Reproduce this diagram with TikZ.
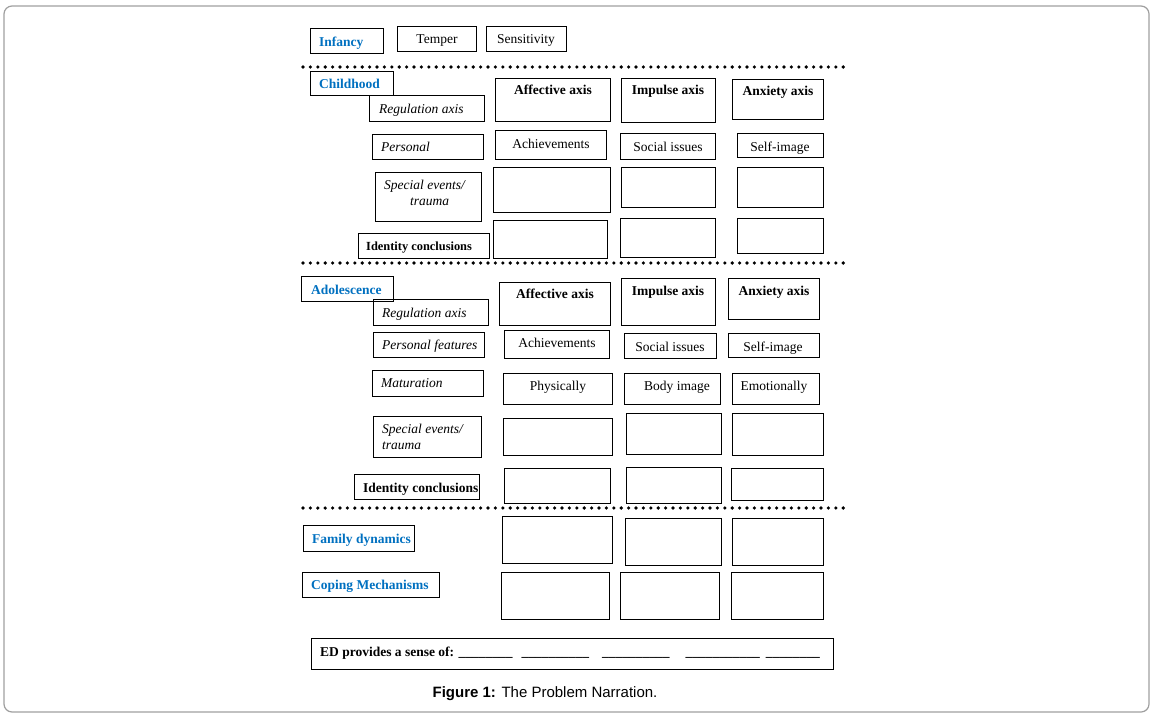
\documentclass[tikz,border=0pt]{standalone}
\usepackage{fontspec}
\setmainfont{Liberation Serif}
\newfontfamily\capfont{Liberation Sans}
\definecolor{hblue}{HTML}{0070C0}
\newcommand\bx[5]{\node[box, minimum width={(#4-#2)*1pt}, minimum height={(#5-#3)*1pt}] (#1) at ({(#2+#4)/2},{(#3+#5)/2}) {};}
\begin{document}
\begin{tikzpicture}[x=1pt,y=-1pt,
 box/.style={draw=black, line width=0.85pt, rectangle, inner sep=0pt, outer sep=0pt},
 lbl/.style={inner sep=0pt, anchor=base west},
 ctr/.style={inner sep=0pt, anchor=base},
 rm/.style={font=\fontsize{13.5}{15}\selectfont},
 it/.style={font=\fontsize{13.5}{15}\selectfont\itshape},
 bf/.style={font=\fontsize{13.5}{15}\selectfont\bfseries},
 stage/.style={font=\fontsize{13.5}{15}\selectfont\bfseries, text=hblue},
 dots/.style={line width=3.6pt, dash pattern=on 0pt off 7.4pt, line cap=round}]
\useasboundingbox (0,0) rectangle (1155,717);
\draw[gray!75, line width=1.2pt, rounded corners=8pt] (4,6) rectangle (1149,712);

% Infancy
\bx{inf}{310}{28}{383}{53}
\bx{temp}{397}{26}{476}{51}
\bx{sens}{486}{26}{566}{51}
\node[lbl, stage] (tinf) at (319,46) {Infancy};
\node[ctr, rm] (ttemp) at (437,44) {Temper};
\node[ctr, rm] (tsens) at (526,44) {Sensitivity};

\coordinate (d1a) at (303,67); \coordinate (d1b) at (850,67);
\draw[dots] (d1a) -- (d1b);

% Childhood
\bx{chi}{310}{71}{393}{95}
\node[lbl, stage] (tchi) at (319,88) {Childhood};
\bx{creg}{369}{95}{484}{121}
\node[lbl, it] (tcreg) at (379,113) {Regulation axis};
\bx{caff}{495}{78}{610}{121}
\node[ctr, bf] (tcaff) at (553,94) {Affective axis};
\bx{cimp}{621}{78}{715}{122}
\node[ctr, bf] (tcimp) at (668,94) {Impulse axis};
\bx{canx}{732}{79}{823}{119}
\node[ctr, bf] (tcanx) at (778,95) {Anxiety axis};

\bx{cper}{372}{134}{483}{159}
\node[lbl, it] (tcper) at (381,151) {Personal};
\bx{cach}{495}{130}{606}{159}
\node[ctr, rm] (tcach) at (551,148) {Achievements};
\bx{csoc}{620}{133}{715}{159}
\node[ctr, rm] (tcsoc) at (668,151) {Social issues};
\bx{cself}{737}{133}{823}{157}
\node[ctr, rm] (tcself) at (780,151) {Self-image};

\bx{cspe}{375}{172}{481}{221}
\node[lbl, it] (tcspe) at (384,189) {Special events/};
\node[lbl, it] (tcspe2) at (410,205) {trauma};
\bx{cs1}{493}{167}{610}{212}
\bx{cs2}{621}{167}{715}{207}
\bx{cs3}{737}{167}{823}{207}

\bx{cid}{358}{233}{489}{258}
\node[lbl, font=\fontsize{12.4}{14}\selectfont\bfseries] (tcid) at (366,250) {Identity conclusions};
\bx{ci1}{493}{220}{607}{258}
\bx{ci2}{620}{218}{715}{257}
\bx{ci3}{737}{218}{823}{253}

\coordinate (d2a) at (303,263); \coordinate (d2b) at (850,263);
\draw[dots] (d2a) -- (d2b);

% Adolescence
\bx{ado}{301}{276}{393}{301}
\node[lbl, stage] (tado) at (311,294) {Adolescence};
\bx{areg}{373}{299}{488}{325}
\node[lbl, it] (tareg) at (382,317) {Regulation axis};
\bx{aaff}{499}{282}{610}{325}
\node[ctr, bf] (taaff) at (555,298) {Affective axis};
\bx{aimp}{621}{278}{715}{325}
\node[ctr, bf] (taimp) at (668,295) {Impulse axis};
\bx{aanx}{728}{278}{819}{319}
\node[ctr, bf] (taanx) at (774,295) {Anxiety axis};

\bx{aper}{373}{332}{484}{357}
\node[lbl, it] (taper) at (382,349) {Personal features};
\bx{aach}{504}{330}{609}{358}
\node[ctr, rm] (taach) at (557,347) {Achievements};
\bx{asoc}{624}{333}{716}{358}
\node[ctr, rm] (tasoc) at (670,351) {Social issues};
\bx{aself}{728}{333}{819}{357}
\node[ctr, rm] (taself) at (773,351) {Self-image};

\bx{amat}{372}{370}{483}{396}
\node[lbl, it] (tamat) at (381,387) {Maturation};
\bx{aphy}{503}{373}{612}{404}
\node[ctr, rm] (taphy) at (558,390) {Physically};
\bx{abod}{624}{373}{720}{404}
\node[ctr, rm] (tabod) at (677,390) {Body image};
\bx{aemo}{732}{373}{819}{404}
\node[ctr, rm] (taemo) at (774,390) {Emotionally};

\bx{aspe}{373}{416}{481}{457}
\node[lbl, it] (taspe) at (382,433) {Special events/};
\node[lbl, it] (taspe2) at (382,449) {trauma};
\bx{as1}{503}{418}{612}{455}
\bx{as2}{626}{413}{721}{454}
\bx{as3}{732}{413}{823}{455}

\bx{aid}{354}{474}{479}{499}
\node[lbl, bf] (taid) at (363,492) {Identity conclusions};
\bx{ai1}{504}{468}{610}{503}
\bx{ai2}{626}{467}{721}{503}
\bx{ai3}{731}{468}{823}{500}

\coordinate (d3a) at (303,508); \coordinate (d3b) at (850,508);
\draw[dots] (d3a) -- (d3b);

% Family / coping
\bx{fam}{303}{525}{414}{551}
\node[lbl, stage] (tfam) at (312,543) {Family dynamics};
\bx{f1}{502}{516}{612}{563}
\bx{f2}{625}{518}{721}{565}
\bx{f3}{732}{518}{823}{565}

\bx{cop}{302}{572}{439}{597}
\node[lbl, stage] (tcop) at (311,589) {Coping Mechanisms};
\bx{k1}{501}{572}{609}{619}
\bx{k2}{620}{572}{719}{619}
\bx{k3}{731}{572}{823}{619}

% ED box
\bx{ed}{311}{638}{833}{669}
\node[lbl, bf] (ted) at (320,656) {ED provides a sense of: \_\_\_\_\_\_\_\_\hspace{9pt}\_\_\_\_\_\_\_\_\_\_\hspace{13pt}\_\_\_\_\_\_\_\_\_\_\hspace{16pt}\_\_\_\_\_\_\_\_\_\_\_\hspace{6pt}\_\_\_\_\_\_\_\_};

% caption
\node[ctr, font=\fontsize{15}{17}\selectfont\capfont] (cap) at (545,697) {\textbf{Figure 1:} The Problem Narration.};
\end{tikzpicture}
\end{document}
